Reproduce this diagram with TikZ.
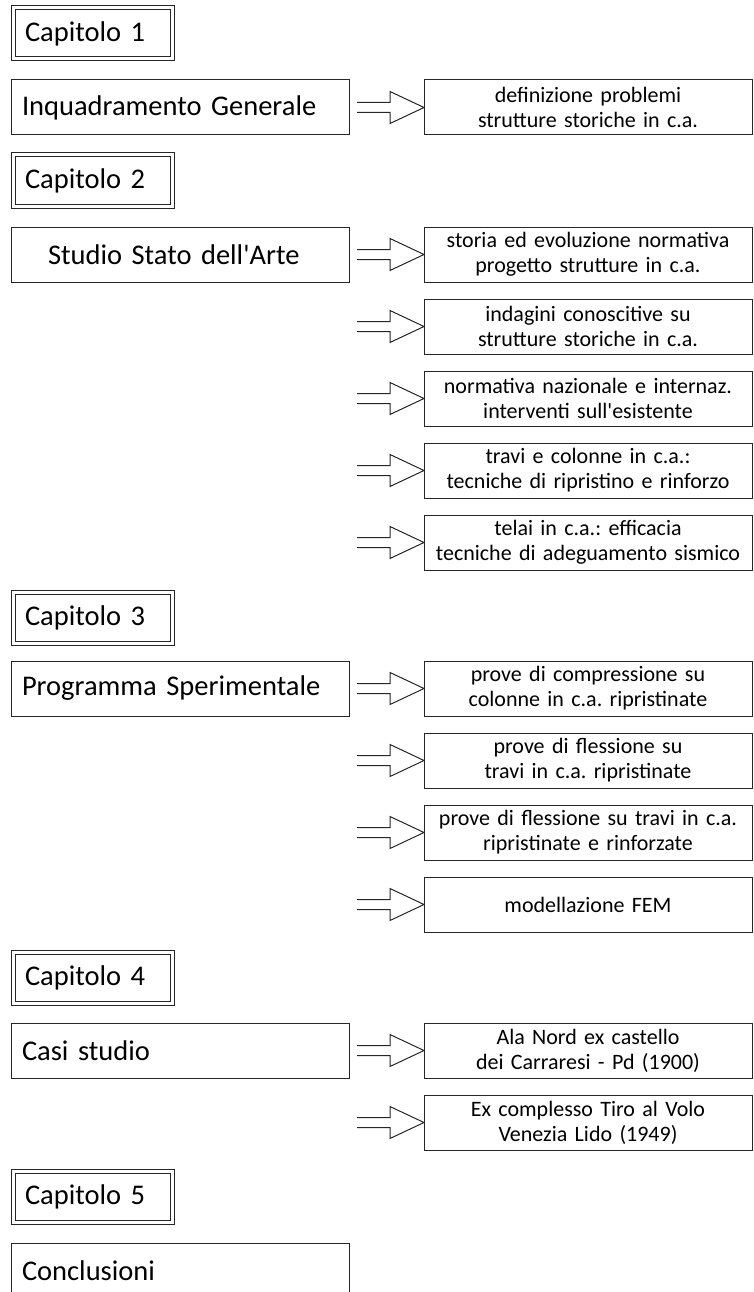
\documentclass[tikz,border=0pt]{standalone}
\usepackage{fontspec}
\setmainfont{Carlito}
\usetikzlibrary{calc,positioning}

\tikzset{
  boxline/.style={draw=black!85, line width=1pt, outer sep=0pt},
  capbox/.style={boxline, double, double distance=3pt, anchor=north west,
    minimum height=51pt, text width=135pt, inner xsep=12pt, inner ysep=0pt,
    align=left, font=\fontsize{28.5}{34}\selectfont},
  leftbox/.style={boxline, anchor=north west, minimum height=55pt,
    text width=316pt, inner xsep=11pt, inner ysep=0pt,
    align=left, font=\fontsize{28.5}{34}\selectfont},
  rightbox/.style={boxline, anchor=north west, minimum height=55pt,
    text width=306pt, inner xsep=11pt, inner ysep=2pt,
    align=center, font=\fontsize{22}{25}\selectfont},
  openarrow/.style={boxline, to path={let \p1=(\tikztostart), \p2=(\tikztotarget) in
    (\x1,\y2+5pt) -- (\x2-34pt,\y2+5pt) -- (\x2-34pt,\y2+16pt) -- (\x2,\y2)
    -- (\x2-34pt,\y2-16pt) -- (\x2-34pt,\y2-5pt) -- (\x1,\y2-5pt)}}
}

\begin{document}
\frenchspacing
\begin{tikzpicture}[x=1pt,y=-1pt]
\useasboundingbox (0,0) rectangle (753,1292);
\clip (0,0) rectangle (753,1292);

% chapter 1
\node[capbox] (cap1) at (13,8) {Capitolo 1};
\node[leftbox] (l1) at (11,80) {Inquadramento Generale};
\node[rightbox] (r10) at (424,80) {definizione problemi\\strutture storiche in c.a.};
\draw[openarrow] ([xshift=8pt]l1.east) to (r10.west);

% chapter 2
\node[capbox] (cap2) at (13,155) {Capitolo 2};
\node[leftbox] (l2) at (11,227) {\hspace*{26pt}Studio Stato dell\textquotesingle Arte};
\foreach \k/\txt in {0/{storia ed evoluzione normativa\\progetto strutture in c.a.},
  1/{indagini conoscitive su\\strutture storiche in c.a.},
  2/{normativa nazionale e internaz.\\interventi sull\textquotesingle esistente},
  3/{travi e colonne in c.a.:\\tecniche di ripristino e rinforzo},
  4/{telai in c.a.: efficacia\\tecniche di adeguamento sismico}}
  \node[rightbox] (r2\k) at (424,{227+72*\k}) {\txt};
\draw[openarrow] ([xshift=8pt]l2.east) to (r20.west);
\foreach \k in {1,...,4} \draw[openarrow] ([xshift=-67pt]r2\k.west) to (r2\k.west);

% chapter 3
\node[capbox] (cap3) at (13,592) {Capitolo 3};
\node[leftbox] (l3) at (11,661) {Programma Sperimentale};
\foreach \k/\txt in {0/{prove di compressione su\\colonne in c.a. ripristinate},
  1/{prove di flessione su\\travi in c.a. ripristinate},
  2/{prove di flessione su travi in c.a.\\ripristinate e rinforzate},
  3/{modellazione FEM}}
  \node[rightbox] (r3\k) at (424,{661+72*\k}) {\txt};
\draw[openarrow] ([xshift=8pt]l3.east) to (r30.west);
\foreach \k in {1,...,3} \draw[openarrow] ([xshift=-67pt]r3\k.west) to (r3\k.west);

% chapter 4
\node[capbox] (cap4) at (13,952) {Capitolo 4};
\node[leftbox] (l4) at (11,1023) {Casi studio};
\node[rightbox] (r40) at (424,1023) {Ala Nord ex castello\\dei Carraresi - Pd (1900)};
\node[rightbox, below=17pt of r40] (r41) {Ex complesso Tiro al Volo\\Venezia Lido (1949)};
\draw[openarrow] ([xshift=8pt]l4.east) to (r40.west);
\draw[openarrow] ([xshift=-67pt]r41.west) to (r41.west);

% chapter 5
\node[capbox] (cap5) at (13,1171) {Capitolo 5};
\node[leftbox] (l5) at (11,1243) {Conclusioni};

\end{tikzpicture}
\end{document}
